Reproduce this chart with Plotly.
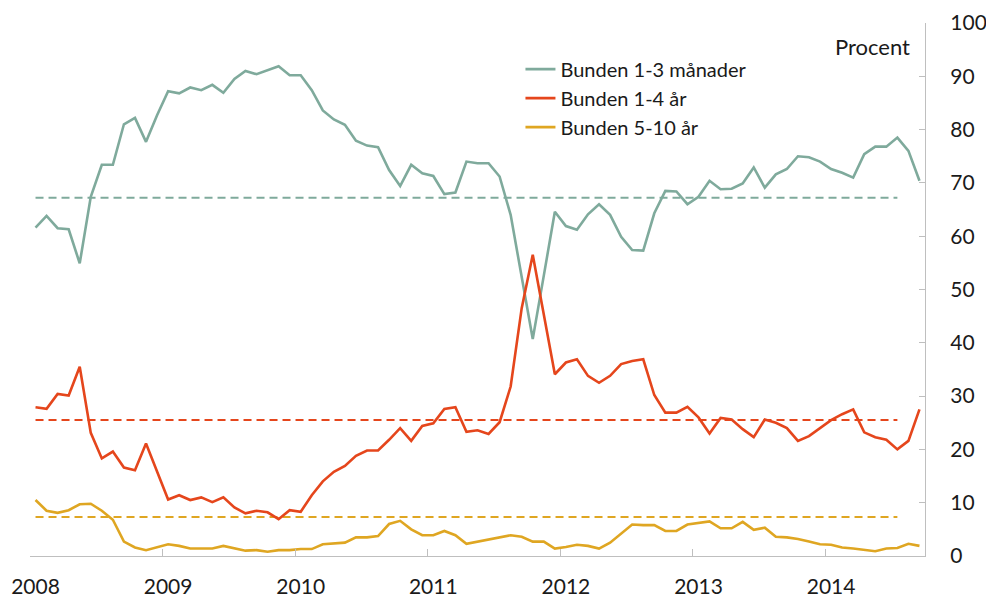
import plotly.graph_objects as go

# ---- data ----
months = [f"{y}-{m:02d}" for y in range(2008, 2015) for m in range(1, 13)][:81]
years = ["2008", "2009", "2010", "2011", "2012", "2013", "2014"]

bunden_1_3_man = [61.6, 63.8, 61.5, 61.3, 54.9, 67.4, 73.4, 73.4, 81.0, 82.2,
                  77.7, 82.7, 87.2, 86.8, 87.9, 87.4, 88.4, 86.9, 89.5, 91.0,
                  90.4, 91.2, 91.9, 90.2, 90.2, 87.4, 83.6, 81.9, 80.9, 77.9,
                  77.0, 76.7, 72.4, 69.4, 73.4, 71.8, 71.3, 67.9, 68.2, 74.0,
                  73.7, 73.7, 71.2, 64.0, 52.5, 40.7, 52.6, 64.6, 61.9, 61.2,
                  64.1, 66.0, 64.0, 59.9, 57.4, 57.3, 64.3, 68.5, 68.4, 66.0,
                  67.4, 70.4, 68.8, 68.9, 69.9, 72.9, 69.1, 71.6, 72.6, 75.0,
                  74.8, 74.0, 72.6, 71.9, 71.0, 75.4, 76.8, 76.8, 78.5, 76.0, 70.4]

bunden_1_4_ar = [27.9, 27.6, 30.4, 30.1, 35.5, 23.1, 18.3, 19.6, 16.6, 16.1,
                 21.1, 15.8, 10.6, 11.4, 10.5, 11.0, 10.1, 11.0, 9.1, 8.0,
                 8.5, 8.2, 6.9, 8.6, 8.3, 11.4, 14.0, 15.8, 16.9, 18.8,
                 19.8, 19.8, 21.8, 24.0, 21.6, 24.4, 24.9, 27.6, 27.9, 23.3,
                 23.6, 22.9, 25.1, 31.8, 46.5, 56.5, 45.3, 34.1, 36.3, 36.9,
                 33.8, 32.5, 33.8, 36.0, 36.6, 36.9, 30.2, 26.9, 26.9, 28.0,
                 26.0, 23.0, 25.9, 25.6, 23.8, 22.3, 25.6, 25.0, 24.0, 21.6,
                 22.5, 24.0, 25.5, 26.6, 27.5, 23.2, 22.3, 21.8, 20.0, 21.6, 27.5]

bunden_5_10_ar = [10.5, 8.5, 8.1, 8.6, 9.7, 9.8, 8.5, 6.8, 2.7, 1.6,
                  1.1, 1.6, 2.2, 1.9, 1.4, 1.4, 1.4, 1.9, 1.4, 1.0,
                  1.1, 0.8, 1.1, 1.1, 1.3, 1.3, 2.2, 2.3, 2.5, 3.5,
                  3.5, 3.75, 6.0, 6.6, 5.0, 3.9, 3.9, 4.7, 3.9, 2.3,
                  2.7, 3.1, 3.5, 3.9, 3.6, 2.7, 2.7, 1.4, 1.7, 2.1,
                  1.9, 1.4, 2.5, 4.2, 5.9, 5.8, 5.8, 4.7, 4.7, 5.9,
                  6.25, 6.5, 5.2, 5.2, 6.4, 4.9, 5.3, 3.6, 3.5, 3.2,
                  2.7, 2.2, 2.1, 1.6, 1.4, 1.1, 0.9, 1.4, 1.5, 2.3, 1.9]

names = ["Bunden 1-3 månader", "Bunden 1-4 år", "Bunden 5-10 år"]
means = [67.2, 25.5, 7.3]
mean_end_month = "2014-07"

colors = ["#7FAA9C", "#E5461C", "#DFA622"]
FONT = "Lato"
TXT = "#1a1a1a"
AX = "#BFBFBF"

x = list(range(len(months)))
x_mean = list(range(months.index(mean_end_month) + 1))

fig = go.Figure()
series = [bunden_1_3_man, bunden_1_4_ar, bunden_5_10_ar]
for vals, nm, c, mv in zip(series, names, colors, means):
    fig.add_trace(go.Scatter(x=x_mean, y=[mv] * len(x_mean), mode="lines",
                             line=dict(color=c, width=2, dash="8px,5px"),
                             showlegend=False, hoverinfo="skip"))
for vals, nm, c in zip(series, names, colors):
    fig.add_trace(go.Scatter(x=x, y=vals, mode="lines", name=nm,
                             line=dict(color=c, width=2.6)))

year_pos = [months.index(f"{y}-01") for y in years]
boundaries = [p - 0.5 for p in year_pos]
xr = [-0.5, len(months) - 0.5]

fig.update_layout(
    width=986, height=597,
    margin=dict(l=30, r=61, t=23, b=41),
    paper_bgcolor="white", plot_bgcolor="white",
    font=dict(family=FONT, color=TXT, size=21),
    showlegend=True,
    legend=dict(x=0.548, y=0.95, xanchor="left", yanchor="top",
                bgcolor="rgba(0,0,0,0)", font=dict(size=20, family=FONT, color=TXT),
                tracegroupgap=0, itemwidth=30),
    xaxis=dict(range=xr, tickmode="array", tickvals=boundaries, ticktext=[""] * len(boundaries),
               ticks="inside", ticklen=7, tickcolor=AX, showline=True, linecolor=AX,
               linewidth=1.3, showgrid=False, zeroline=False, automargin=False),
    xaxis2=dict(range=xr, overlaying="x", side="bottom", tickmode="array",
                tickvals=year_pos, ticktext=years, ticks="", showline=False,
                showgrid=False, zeroline=False, tickfont=dict(size=21, color=TXT),
                ticklabelstandoff=16, automargin=False),
    yaxis=dict(range=[0, 100], side="right", tickmode="array", tickvals=list(range(0, 101, 10)),
               ticks="inside", ticklen=6, tickcolor=AX, showline=True, linecolor=AX,
               linewidth=1.3, showgrid=False, zeroline=False, automargin=False,
               tickfont=dict(size=21, color=TXT), ticklabelstandoff=20),
    annotations=[dict(text="Procent", xref="paper", yref="paper", x=0.985, y=0.955,
                      xanchor="right", yanchor="middle", showarrow=False,
                      font=dict(size=22, family=FONT, color=TXT))],
)
# invisible trace to activate xaxis2
fig.add_trace(go.Scatter(x=[0], y=[0], xaxis="x2", mode="markers",
                         marker=dict(opacity=0), showlegend=False, hoverinfo="skip"))

fig.write_html("out.html", config={"displayModeBar": False},
               post_script="document.body.style.margin='0';")
